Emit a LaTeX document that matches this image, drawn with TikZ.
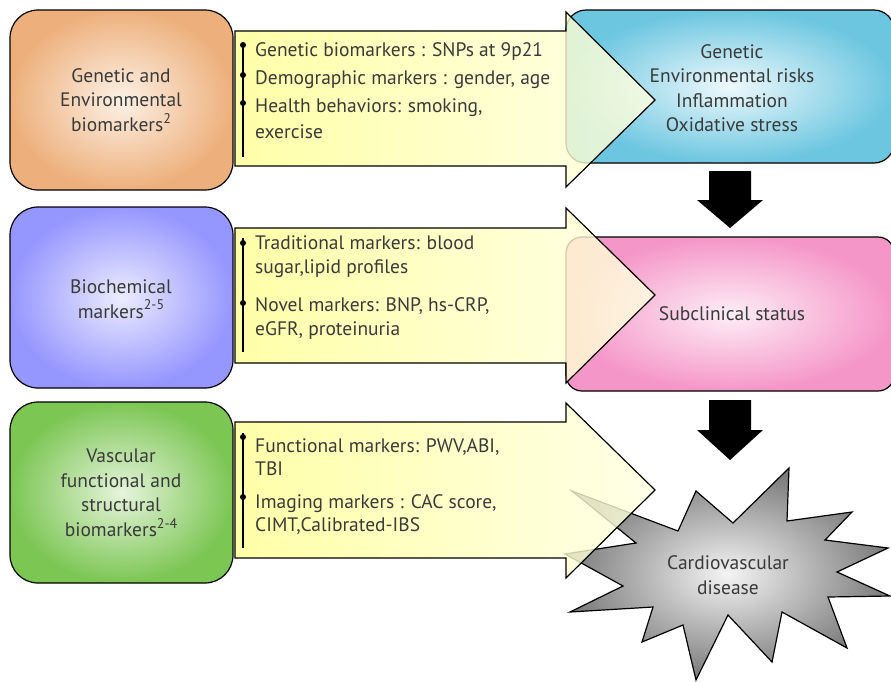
\documentclass[tikz,border=0pt]{standalone}
\usepackage{fontspec}
\setmainfont{PT Sans}
\usetikzlibrary{calc}
\definecolor{txt}{HTML}{3A3A3A}
\definecolor{orE}{HTML}{EDB07C}
\definecolor{orC}{HTML}{FDF1E6}
\definecolor{viE}{HTML}{9696FF}
\definecolor{viC}{HTML}{ECECFF}
\definecolor{grE}{HTML}{7CC654}
\definecolor{grC}{HTML}{E6F4DC}
\definecolor{blE}{HTML}{6CC6E0}
\definecolor{blC}{HTML}{EEF9FC}
\definecolor{piE}{HTML}{F596C8}
\definecolor{piC}{HTML}{FDEEF6}
\definecolor{stE}{HTML}{7A7A7A}
\definecolor{stC}{HTML}{F4F4F4}
\definecolor{yeL}{HTML}{FFFF92}
\definecolor{yeR}{HTML}{FFFFE2}
\newcommand{\mysup}[1]{\raisebox{0.42em}{\fontsize{14}{14}\selectfont #1}}
\tikzset{
  box/.style={draw=black, line width=1.2pt},
  boxtext/.style={align=center, text=txt, font=\fontsize{19.5}{24.5}\selectfont},
  itemtext/.style={anchor=base west, text=txt, inner sep=0pt, font=\fontsize{19.5}{24}\selectfont},
  yarrow/.style={draw=black, line width=1.2pt, left color=yeL, right color=yeR, fill opacity=0.8, line join=miter},
  bline/.style={line width=1.5pt, black},
  bdot/.style={fill=black},
  darrow/.style={fill=black}
}
\begin{document}
\begin{tikzpicture}[x=1pt,y=-1pt]
\useasboundingbox (0,0) rectangle (891,681);
\begin{scope}
\clip (0,0) rectangle (891,681);
% left boxes
\path[box, rounded corners=28pt, inner color=orC, outer color=orE] (10,10) rectangle (233,190);
\path[box, rounded corners=28pt, inner color=viC, outer color=viE] (10,207) rectangle (233,388);
\path[box, rounded corners=28pt, inner color=grC, outer color=grE] (10,402) rectangle (233,583);
\node[boxtext] (b1) at (121,100) {Genetic and\\Environmental\\biomarkers\mysup{2}};
\node[boxtext] (b2) at (121,299) {Biochemical\\markers\mysup{2-5}};
\node[boxtext] (b3) at (121,493) {Vascular\\functional and\\structural\\biomarkers\mysup{2-4}};
% right boxes
\path[box, rounded corners=20pt, inner color=blC, outer color=blE] (566,10) rectangle (894,163);
\path[box, rounded corners=16pt, inner color=piC, outer color=piE] (566,237) rectangle (894,391);
\path[box, line join=miter, inner color=stC, outer color=stE]
  (789,468) -- (787,521) -- (852,512) -- (825,540) -- (888,548) -- (837,572) -- (890,596) -- (828,597)
  -- (847,648) -- (782,612) -- (772,662) -- (728,615) -- (696,680) -- (683,625) -- (642,642) -- (653,607)
  -- (570,612) -- (623,586) -- (565,554) -- (636,543) -- (572,491) -- (678,531) -- (696,491) -- (733,523) -- cycle;
\node[boxtext] (r1) at (732,88) {Genetic\\Environmental risks\\Inflammation\\Oxidative stress};
\node[boxtext] (r2) at (732,314) {Subclinical status};
\node[boxtext] (r3) at (728,575) {Cardiovascular\\disease};
% yellow arrows
\path[yarrow] (235,31) -- (566,31) -- (566,12) -- (655,100) -- (566,187) -- (566,166) -- (235,166) -- cycle;
\path[yarrow] (235,228) -- (566,228) -- (566,208) -- (655,295) -- (566,383) -- (566,363) -- (235,363) -- cycle;
\path[yarrow] (235,422) -- (566,422) -- (566,403) -- (655,490) -- (566,578) -- (566,558) -- (235,558) -- cycle;
% bullets arrow 1
\draw[bline] (243,43) -- (243,157);
\fill[bdot] (243,45) circle (3pt) (243,75) circle (3pt) (243,103) circle (3pt);
\node[itemtext] (t11) at (255,56) {Genetic biomarkers : SNPs at 9p21};
\node[itemtext] (t12) at (255,84) {Demographic markers : gender, age};
\node[itemtext] (t13) at (255,112) {Health behaviors: smoking,};
\node[itemtext] (t14) at (255,138) {exercise};
% bullets arrow 2
\draw[bline] (243,238) -- (243,352);
\fill[bdot] (243,243) circle (3pt) (243,303) circle (3pt);
\node[itemtext] (t21) at (255,249) {Traditional markers: blood};
\node[itemtext] (t22) at (255,273) {sugar,lipid profiles};
\node[itemtext] (t23) at (255,311) {Novel markers: BNP, hs-CRP,};
\node[itemtext] (t24) at (255,335) {eGFR, proteinuria};
% bullets arrow 3
\draw[bline] (243,433) -- (243,548);
\fill[bdot] (243,437) circle (3pt) (243,497) circle (3pt);
\node[itemtext] (t31) at (255,452) {Functional markers: PWV,ABI,};
\node[itemtext] (t32) at (255,475) {TBI};
\node[itemtext] (t33) at (255,508) {Imaging markers : CAC score,};
\node[itemtext] (t34) at (255,531) {CIMT,Calibrated-IBS};
% black arrows
\fill[darrow] (709,171) -- (751,171) -- (751,200) -- (763,200) -- (730,228) -- (697,200) -- (709,200) -- cycle;
\fill[darrow] (709,400) -- (751,400) -- (751,430) -- (763,430) -- (730,460) -- (697,430) -- (709,430) -- cycle;
\end{scope}
\end{tikzpicture}
\end{document}
